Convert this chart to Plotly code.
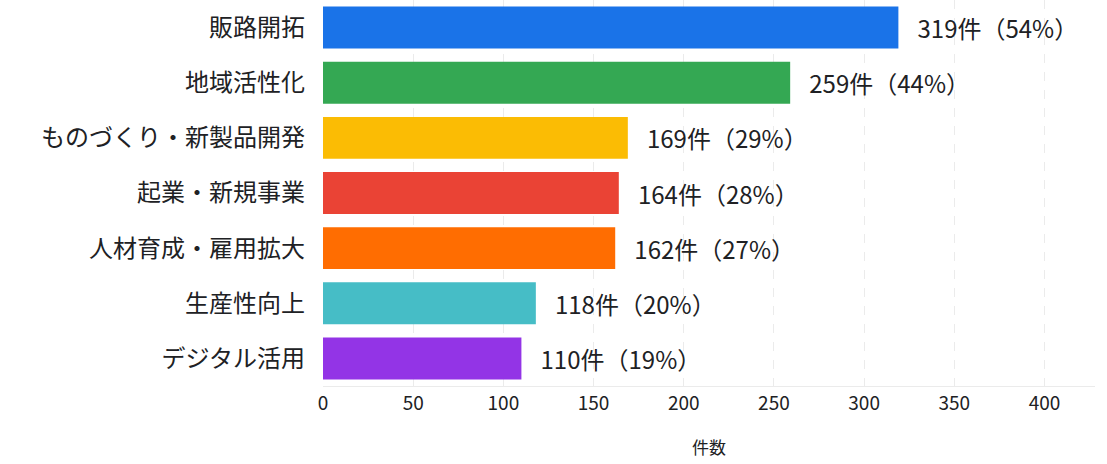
import plotly.graph_objects as go

categories = ["販路開拓", "地域活性化", "ものづくり・新製品開発", "起業・新規事業", "人材育成・雇用拡大", "生産性向上", "デジタル活用"]
counts = [319, 259, 169, 164, 162, 118, 110]
percents = [54, 44, 29, 28, 27, 20, 19]
colors = ["#1a73e8", "#34a853", "#fbbc04", "#ea4335", "#ff6d01", "#46bdc6", "#9334e6"]
tick_vals = [0, 50, 100, 150, 200, 250, 300, 350, 400]

labels = ["\u00a0\u00a0\u00a0%d件（%d%%）" % (c, p) for c, p in zip(counts, percents)]

fig = go.Figure(go.Bar(
    x=counts, y=categories, orientation="h",
    marker=dict(color=colors, line=dict(width=0)),
    text=labels, textposition="outside", cliponaxis=False,
    textfont=dict(size=24, color="#202124", family="Noto Sans CJK JP"),
    hoverinfo="skip",
))

fig.update_layout(
    width=1107, height=464,
    margin=dict(l=323, r=12, t=0, b=78),
    plot_bgcolor="white", paper_bgcolor="white",
    bargap=0.24,
    showlegend=False,
    font=dict(family="Noto Sans CJK JP", color="#202124"),
)
fig.update_xaxes(
    range=[0, 428], tickvals=tick_vals,
    showgrid=True, gridcolor="#ebebeb", griddash="dash", gridwidth=1,
    zeroline=False, showline=True, linecolor="#ebebeb",
    tickfont=dict(size=19, color="#202124"),
    title=dict(text="件数", font=dict(size=17, color="#202124"), standoff=28),
)
fig.update_yaxes(
    categoryorder="array", categoryarray=categories[::-1],
    tickfont=dict(size=24, color="#202124"),
    ticks="", ticklabelstandoff=17, showgrid=False, zeroline=False,
)

fig.write_html("out.html", config={"displayModeBar": False},
               post_script="document.body.style.margin='0';")
